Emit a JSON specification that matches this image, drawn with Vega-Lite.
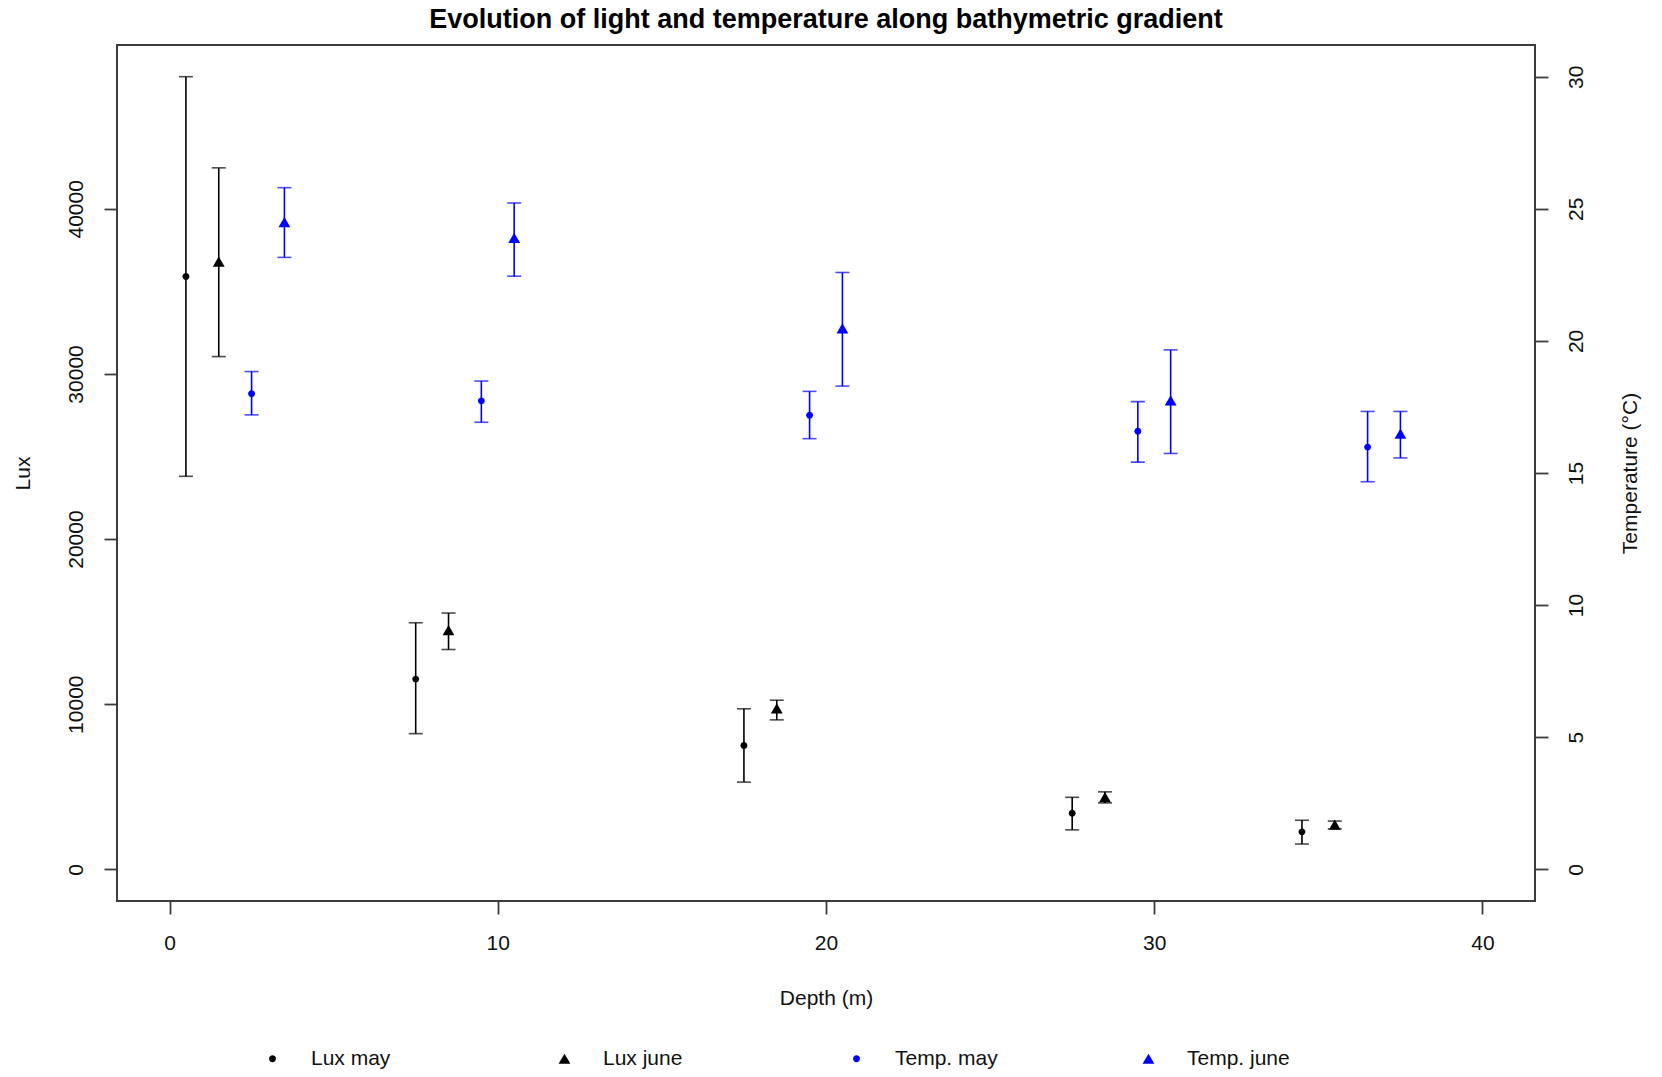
{
  "$schema": "https://vega.github.io/schema/vega-lite/v6.json",
  "autosize": {"type": "none"},
  "padding": {"left": 117, "top": 45, "right": 127, "bottom": 176},
  "width": 1418,
  "height": 856,
  "background": "white",
  "title": {
    "text": "Evolution of light and temperature along bathymetric gradient",
    "font": "Liberation Sans",
    "fontSize": 27,
    "fontWeight": "bold",
    "color": "#000000",
    "anchor": "middle",
    "frame": "group",
    "baseline": "alphabetic",
    "offset": 15,
    "dy": 25
  },
  "config": {
    "view": {"stroke": "#3c3c3c", "strokeWidth": 2},
    "font": "Liberation Sans",
    "axis": {
      "grid": false,
      "domain": false,
      "tickColor": "#3c3c3c",
      "tickWidth": 1.8,
      "tickSize": 13,
      "labelFont": "Liberation Sans",
      "labelFontSize": 21,
      "labelColor": "#111111",
      "titleFont": "Liberation Sans",
      "titleFontSize": 21,
      "titleFontWeight": "normal",
      "titleColor": "#111111"
    },
    "legend": {
      "orient": "none",
      "legendX": 145,
      "legendY": 1003,
      "direction": "horizontal",
      "columns": 4,
      "gridAlign": "all",
      "columnPadding": 140,
      "symbolSize": 140,
      "symbolStrokeWidth": 0,
      "labelOffset": 28,
      "labelFont": "Liberation Sans",
      "labelFontSize": 21,
      "labelColor": "#111111",
      "labelLimit": 0,
      "padding": 0
    }
  },
  "datasets": {
    "lux": [
      {"depth": 0.5, "series": "Lux may", "mean": 35900, "lo": 23800, "hi": 48000},
      {"depth": 7.5, "series": "Lux may", "mean": 11520, "lo": 8215, "hi": 14930},
      {"depth": 17.5, "series": "Lux may", "mean": 7500, "lo": 5280, "hi": 9720},
      {"depth": 27.5, "series": "Lux may", "mean": 3400, "lo": 2390, "hi": 4360},
      {"depth": 34.5, "series": "Lux may", "mean": 2270, "lo": 1530, "hi": 2970},
      {"depth": 1.5, "series": "Lux june", "mean": 36800, "lo": 31050, "hi": 42480},
      {"depth": 8.5, "series": "Lux june", "mean": 14480, "lo": 13310, "hi": 15520},
      {"depth": 18.5, "series": "Lux june", "mean": 9740, "lo": 9050, "hi": 10240},
      {"depth": 28.5, "series": "Lux june", "mean": 4370, "lo": 4020, "hi": 4690},
      {"depth": 35.5, "series": "Lux june", "mean": 2710, "lo": 2450, "hi": 2920}
    ],
    "temp": [
      {"depth": 2.5, "series": "Temp. may", "mean": 18.0, "lo": 17.2, "hi": 18.84},
      {"depth": 9.5, "series": "Temp. may", "mean": 17.73, "lo": 16.92, "hi": 18.48},
      {"depth": 19.5, "series": "Temp. may", "mean": 17.19, "lo": 16.3, "hi": 18.09},
      {"depth": 29.5, "series": "Temp. may", "mean": 16.58, "lo": 15.41, "hi": 17.7},
      {"depth": 36.5, "series": "Temp. may", "mean": 15.98, "lo": 14.67, "hi": 17.33},
      {"depth": 3.5, "series": "Temp. june", "mean": 24.5, "lo": 23.16, "hi": 25.8},
      {"depth": 10.5, "series": "Temp. june", "mean": 23.9, "lo": 22.45, "hi": 25.22},
      {"depth": 20.5, "series": "Temp. june", "mean": 20.47, "lo": 18.29, "hi": 22.59},
      {"depth": 30.5, "series": "Temp. june", "mean": 17.75, "lo": 15.74, "hi": 19.66},
      {"depth": 37.5, "series": "Temp. june", "mean": 16.49, "lo": 15.57, "hi": 17.33}
    ]
  },
  "layer": [
    {
      "data": {"name": "lux"},
      "encoding": {
        "x": {
          "field": "depth",
          "type": "quantitative",
          "scale": {"domain": [-1.6, 41.6], "nice": false, "zero": false},
          "axis": {
            "values": [0, 10, 20, 30, 40],
            "title": "Depth (m)",
            "labelPadding": 18,
            "titleY": 103,
            "titleBaseline": "alphabetic"
          }
        }
      },
      "layer": [
        {
          "mark": {"type": "rule", "color": "#000000", "strokeWidth": 1.6},
          "encoding": {
            "y": {
              "field": "lo",
              "type": "quantitative",
              "title": "Lux",
              "scale": {"domain": [-1920, 49920], "nice": false, "zero": false},
              "axis": {
                "orient": "left",
                "values": [0, 10000, 20000, 30000, 40000],
                "format": "d",
                "labelAngle": -90,
                "labelAlign": "center",
                "labelBaseline": "alphabetic",
                "labelPadding": 22,
                "titleAngle": -90,
                "titleBaseline": "alphabetic",
                "titleX": -88,
                "titleY": 428
              }
            },
            "y2": {"field": "hi"}
          }
        },
        {
          "mark": {"type": "tick", "orient": "horizontal", "color": "#000000", "size": 14, "thickness": 1.6},
          "encoding": {"y": {"field": "hi", "type": "quantitative", "title": "Lux"}}
        },
        {
          "mark": {"type": "tick", "orient": "horizontal", "color": "#000000", "size": 14, "thickness": 1.6},
          "encoding": {"y": {"field": "lo", "type": "quantitative", "title": "Lux"}}
        },
        {
          "mark": {"type": "point", "filled": true, "opacity": 1, "size": 140, "strokeWidth": 0},
          "encoding": {
            "y": {"field": "mean", "type": "quantitative", "title": "Lux"},
            "color": {
              "field": "series",
              "type": "nominal",
              "scale": {"domain": ["Lux may", "Lux june", "Temp. may", "Temp. june"], "range": ["#000000", "#000000", "#0000ff", "#0000ff"]},
              "legend": {"title": null}
            },
            "shape": {
              "field": "series",
              "type": "nominal",
              "scale": {"domain": ["Lux may", "Lux june", "Temp. may", "Temp. june"], "range": ["M-0.58,0A0.58,0.58,0,1,1,0.58,0A0.58,0.58,0,1,1,-0.58,0Z", "triangle-up", "M-0.58,0A0.58,0.58,0,1,1,0.58,0A0.58,0.58,0,1,1,-0.58,0Z", "triangle-up"]},
              "legend": {"title": null}
            }
          }
        }
      ]
    },
    {
      "data": {"name": "temp"},
      "encoding": {
        "x": {"field": "depth", "type": "quantitative"}
      },
      "layer": [
        {
          "mark": {"type": "rule", "color": "#0000ff", "strokeWidth": 1.6},
          "encoding": {
            "y": {
              "field": "lo",
              "type": "quantitative",
              "title": "Temperature (°C)",
              "scale": {"domain": [-1.2, 31.2], "nice": false, "zero": false},
              "axis": {
                "orient": "right",
                "values": [0, 5, 10, 15, 20, 25, 30],
                "labelAngle": -90,
                "labelAlign": "center",
                "labelBaseline": "top",
                "labelPadding": 17,
                "titleAngle": -90,
                "titleBaseline": "alphabetic",
                "titleX": 101,
                "titleY": 428
              }
            },
            "y2": {"field": "hi"}
          }
        },
        {
          "mark": {"type": "tick", "orient": "horizontal", "color": "#0000ff", "size": 14, "thickness": 1.6},
          "encoding": {"y": {"field": "hi", "type": "quantitative", "title": "Temperature (°C)"}}
        },
        {
          "mark": {"type": "tick", "orient": "horizontal", "color": "#0000ff", "size": 14, "thickness": 1.6},
          "encoding": {"y": {"field": "lo", "type": "quantitative", "title": "Temperature (°C)"}}
        },
        {
          "mark": {"type": "point", "filled": true, "opacity": 1, "size": 140, "strokeWidth": 0},
          "encoding": {
            "y": {"field": "mean", "type": "quantitative", "title": "Temperature (°C)"},
            "color": {
              "field": "series",
              "type": "nominal",
              "scale": {"domain": ["Lux may", "Lux june", "Temp. may", "Temp. june"], "range": ["#000000", "#000000", "#0000ff", "#0000ff"]},
              "legend": {"title": null}
            },
            "shape": {
              "field": "series",
              "type": "nominal",
              "scale": {"domain": ["Lux may", "Lux june", "Temp. may", "Temp. june"], "range": ["M-0.58,0A0.58,0.58,0,1,1,0.58,0A0.58,0.58,0,1,1,-0.58,0Z", "triangle-up", "M-0.58,0A0.58,0.58,0,1,1,0.58,0A0.58,0.58,0,1,1,-0.58,0Z", "triangle-up"]},
              "legend": {"title": null}
            }
          }
        }
      ]
    }
  ],
  "resolve": {"scale": {"y": "independent"}}
}
